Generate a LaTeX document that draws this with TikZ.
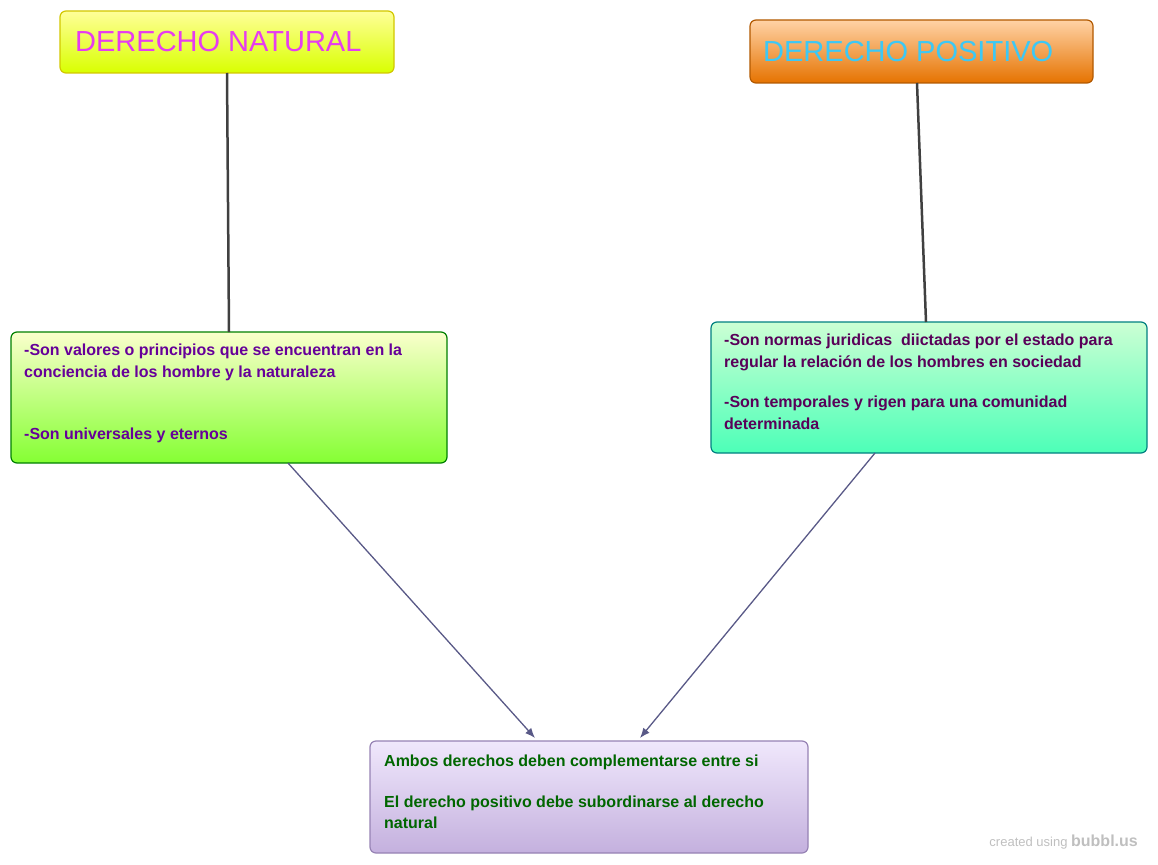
\documentclass[tikz,border=0pt]{standalone}
\usepackage{fontspec}
\usetikzlibrary{arrows.meta}
\setmainfont{Liberation Sans}
\definecolor{lavtop}{RGB}{240,232,252}
\definecolor{lavbot}{RGB}{196,176,222}
\definecolor{lavdraw}{RGB}{150,130,180}
\definecolor{mag}{RGB}{230,60,240}
\definecolor{sky}{RGB}{60,200,245}
\begin{document}
\begin{tikzpicture}[x=1pt,y=-1pt,
 box/.style={rounded corners=6pt,draw=#1,line width=1.2pt},
 txt/.style={anchor=north west,align=left,inner sep=0pt,font=\bfseries\fontsize{16}{21.5}\selectfont},
 conn/.style={draw=gray!50!black,line width=2.5pt},
 arr/.style={draw=black!40!blue!30!gray,line width=1.3pt,-{Latex[length=10pt,width=8pt]}}]
\useasboundingbox (0,0) rectangle (1158,864);
\shade[box=yellow!60!olive,top color=yellow!40,bottom color=yellow!85!green] (60,11) rectangle (394,73);
\node[anchor=west,inner sep=0pt,font=\fontsize{29}{34}\selectfont,text=mag] (dn) at (75,42) {DERECHO NATURAL};
\shade[box=orange!70!black,top color=orange!35,bottom color=orange!90!black] (750,20) rectangle (1093,83);
\node[anchor=west,inner sep=0pt,font=\fontsize{29}{34}\selectfont,text=sky] (dp) at (763,52) {DERECHO POSITIVO};
\shade[box=green!50!black,top color=green!10!yellow!20,bottom color=green!60!yellow!80] (11,332) rectangle (447,463);
\shade[box=teal,top color=cyan!15!green!20,bottom color=cyan!60!green!70] (711,322) rectangle (1147,453);
\shade[box=lavdraw,top color=lavtop,bottom color=lavbot] (370,741) rectangle (808,853);
\coordinate (l) at (229,332); \coordinate (r) at (926,322); \coordinate (b) at (589,741);
\node[txt,text=violet!80!blue] (lt) at (24,344) {-Son valores o principios que se encuentran en la\\conciencia de los hombre y la naturaleza\\[41pt]-Son universales y eternos};
\node[txt,text=violet!70!black] (rt) at (724,334) {-Son normas juridicas\ \ diictadas por el estado para\\regular la relación de los hombres en sociedad\\[19pt]-Son temporales y rigen para una comunidad\\determinada};
\node[txt,text=green!40!black] (bt) at (384,755) {Ambos derechos deben complementarse entre si\\[19pt]El derecho positivo debe subordinarse al derecho\\natural};
\draw[conn] (227,73) -- (l);
\draw[conn] (917,83) -- (r);
\draw[arr] (288,463) -- (535,738);
\draw[arr] (875,453) -- (640,738);
\node[anchor=east,inner sep=0pt,text=gray!50,font=\fontsize{13}{15}\selectfont] (cr) at (1138,842) {created using \textbf{\fontsize{16}{18}\selectfont bubbl.us}};
\end{tikzpicture}
\end{document}
